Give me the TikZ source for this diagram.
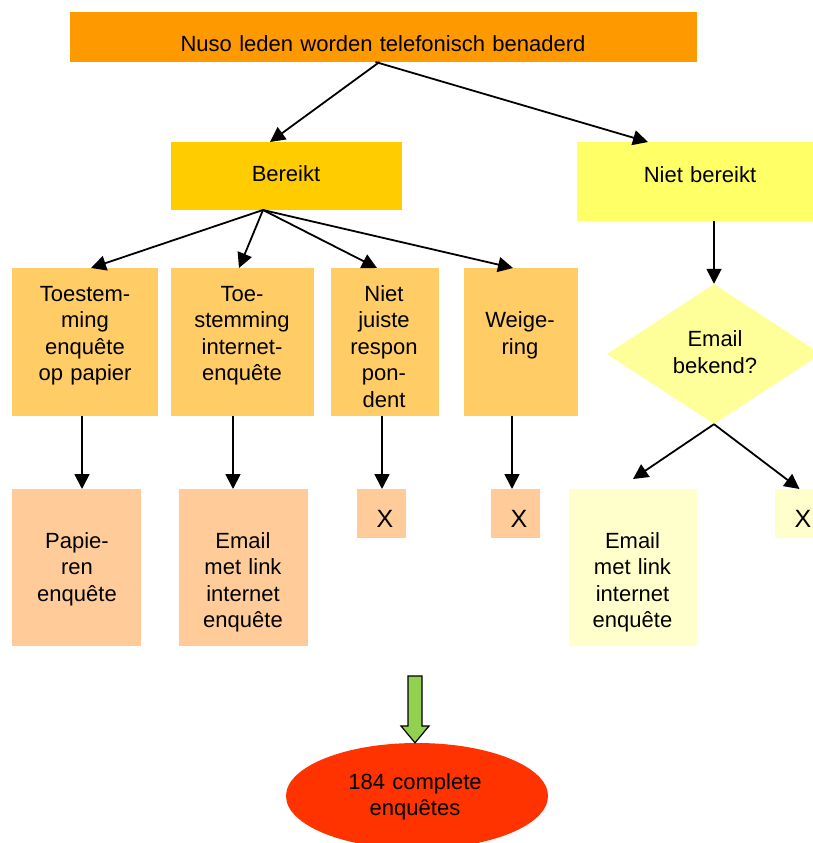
\documentclass[tikz,border=0pt]{standalone}
\usepackage{fontspec}
\setmainfont{Liberation Sans}
\usetikzlibrary{shapes.geometric,arrows.meta,calc}
\definecolor{cTop}{HTML}{FF9900}
\definecolor{cBer}{HTML}{FFCC00}
\definecolor{cNie}{HTML}{FFFF66}
\definecolor{cRow}{HTML}{FFCC66}
\definecolor{cPea}{HTML}{FFCC99}
\definecolor{cDia}{HTML}{FFFF99}
\definecolor{cLy}{HTML}{FFFFCC}
\definecolor{cEll}{HTML}{FF3300}
\definecolor{cGrn}{HTML}{92D050}
\begin{document}
\begin{tikzpicture}[x=1pt,y=-1pt,
  box/.style={rectangle, draw=none, inner sep=0pt, outer sep=0pt},
  txt/.style={align=center, text width=160pt, inner sep=0pt, anchor=base,
    font=\fontsize{22}{26.5}\selectfont},
  xtxt/.style={inner sep=0pt, anchor=base, font=\fontsize{25}{30}\selectfont},
  arr/.style={line width=1.8pt, -{Triangle[length=15pt,width=15pt]}},
]
\useasboundingbox (0,0) rectangle (813,843);
% boxes
\node[box, fill=cTop, minimum width=627pt, minimum height=50pt] (top) at (383.5,37) {};
\node[box, fill=cBer, minimum width=231pt, minimum height=68pt] (ber) at (286.5,176) {};
\node[box, fill=cNie, minimum width=246pt, minimum height=79pt] (nie) at (700,181.5) {};
\node[box, fill=cRow, minimum width=146pt, minimum height=148pt] (b1) at (85,342) {};
\node[box, fill=cRow, minimum width=143pt, minimum height=148pt] (b2) at (242.5,342) {};
\node[box, fill=cRow, minimum width=108pt, minimum height=148pt] (b3) at (385,342) {};
\node[box, fill=cRow, minimum width=114pt, minimum height=148pt] (b4) at (521,342) {};
\node[box, fill=cPea, minimum width=129pt, minimum height=157pt] (p1) at (76.5,567.5) {};
\node[box, fill=cPea, minimum width=129pt, minimum height=157pt] (p2) at (243.5,567.5) {};
\node[box, fill=cPea, minimum width=49pt, minimum height=49pt] (x1) at (381.5,513.5) {};
\node[box, fill=cPea, minimum width=49pt, minimum height=49pt] (x2) at (515.5,513.5) {};
\node[box, fill=cLy, minimum width=128pt, minimum height=157pt] (ly) at (633,567.5) {};
\node[box, fill=cLy, minimum width=49pt, minimum height=49pt] (x3) at (799.5,513.5) {};
\node[diamond, fill=cDia, draw=none, inner sep=0pt, minimum width=214pt, minimum height=140pt] (dia) at (714,354) {};
\node[ellipse, fill=cEll, draw=none, inner sep=0pt, minimum width=262pt, minimum height=106pt] (ell) at (417,796) {};
% texts
\node[txt, text width=600pt] (ttop) at (383,51.7) {Nuso leden worden telefonisch benaderd};
\node[txt] (tber) at (286,181.7) {Bereikt};
\node[txt] (tnie) at (700,182) {Niet bereikt};
\node[txt] (tb1) at (85,301) {Toestem-\\ming\\enquête\\op papier};
\node[txt] (tb2) at (242,301) {Toe-\\stemming\\internet-\\enquête};
\node[txt] (tb3) at (384,301) {Niet\\juiste\\respon\\pon-\\dent};
\node[txt] (tb4) at (520,327.5) {Weige-\\ring};
\node[txt] (tp1) at (77,548) {Papie-\\ren\\enquête};
\node[txt] (tp2) at (243,548) {Email\\met link\\internet\\enquête};
\node[txt] (tly) at (632.5,548) {Email\\met link\\internet\\enquête};
\node[txt] (tdia) at (715,346.7) {Email\\bekend?};
\node[txt] (tell) at (415,789) {184 complete\\enquêtes};
\node[xtxt] (tx1) at (385,527.5) {X};
\node[xtxt] (tx2) at (519,527.5) {X};
\node[xtxt] (tx3) at (803,527) {X};
% connectors
\draw[arr] ([xshift=-4pt]top.south) -- ([xshift=-16.5pt]ber.north);
\draw[arr] ([xshift=-8pt]top.south) -- ([xshift=-52pt]nie.north);
\draw[arr] ([xshift=-23.5pt]ber.south) -- ([xshift=6pt]b1.north);
\draw[arr] ([xshift=-23.5pt]ber.south) -- ([xshift=-3.5pt]b2.north);
\draw[arr] ([xshift=-23.5pt]ber.south) -- ([xshift=-8pt]b3.north);
\draw[arr] ([xshift=-23.5pt]ber.south) -- ([xshift=-8pt]b4.north);
\draw[arr] ([xshift=-3pt]b1.south) -- ([xshift=-3pt]b1.south |- p1.north);
\draw[arr] ([xshift=-9.5pt]b2.south) -- ([xshift=-9.5pt]b2.south |- p2.north);
\draw[arr] ([xshift=-3pt]b3.south) -- ([xshift=-3pt]b3.south |- x1.north);
\draw[arr] ([xshift=-9pt]b4.south) -- ([xshift=-9pt]b4.south |- x2.north);
\draw[arr] (dia.north |- nie.south) -- (dia.north);
\draw[arr] (dia.south) -- ([yshift=10pt]ly.north);
\draw[arr] (dia.south) -- (x3.north);
% green block arrow
\draw[fill=cGrn, line width=1.2pt, line join=miter]
  (408,676) -- (422,676) -- (422,726) -- (429,726) -- ([xshift=-2pt]ell.north)
  -- (401,726) -- (408,726) -- cycle;
\end{tikzpicture}
\end{document}
